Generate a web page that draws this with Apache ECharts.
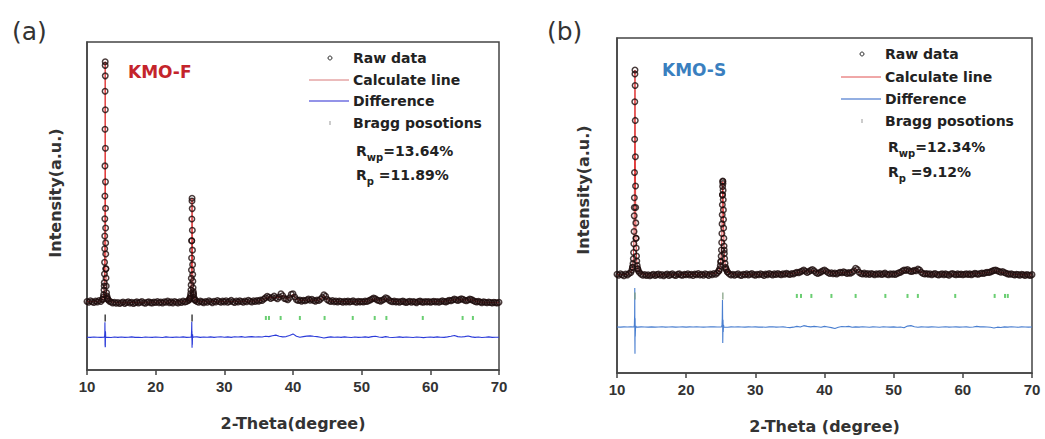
<!DOCTYPE html>
<html><head><meta charset="utf-8">
<script src="https://cdn.jsdelivr.net/npm/echarts@6/dist/echarts.min.js"></script>
<style>html,body{margin:0;padding:0;background:#fff}#c{width:1045px;height:439px}</style>
</head><body><div id="c"></div>
<script>
// ---------- shared ----------
const THETA_START = 10;        // first 2θ sample of the background arrays
const RAW_STEP = 0.25;         // 2θ spacing of raw background samples
const CALC_STEP = 0.5;         // 2θ spacing of calc / difference samples
const xTickLabels = [10, 20, 30, 40, 50, 60, 70];

// ---------- panel (a) KMO-F ----------
const rawBgA = [
300,270,320,290,265,310,285,330,300,360,815,1392,384,310,280,250,275,240,265,230,
255,280,235,265,290,250,270,230,260,285,245,270,300,255,240,275,290,260,250,280,
265,300,255,280,245,290,270,310,260,285,250,300,275,245,290,265,310,280,300,330,
414,2334,567,341,300,270,310,285,260,300,275,320,290,260,305,280,330,295,270,310,
285,320,270,300,335,290,265,310,280,325,300,270,315,290,340,305,280,320,295,330,
310,345,330,380,420,470,440,400,430,480,420,390,450,560,490,400,380,360,420,540,
560,450,360,330,350,310,340,320,350,380,340,370,330,310,350,330,370,430,520,470,
360,320,300,330,290,310,280,315,295,270,305,285,310,280,300,325,290,270,305,285,
300,280,310,295,320,345,380,410,390,350,330,310,340,370,420,400,340,305,290,310,
280,300,270,295,310,285,265,290,305,275,300,280,260,295,310,285,270,300,280,295,
270,290,305,280,300,275,295,320,300,285,310,340,320,350,380,355,330,360,390,370,
340,320,350,380,360,330,300,285,305,280,260,290,275,255,280,265,250,275,260,245,
270];
const peaksA = [
[12.30,384],[12.375,447],[12.425,527],[12.475,680],[12.515,930],[12.54,1221],[12.56,1610],[12.575,2065],
[12.585,2494],[12.595,3069],[12.605,3838],[12.615,4845],[12.625,6076],[12.635,7346],[12.645,8216],
[12.65,8340],[12.66,7864],[12.67,6728],[12.68,5438],[12.69,4310],[12.70,3424],[12.71,2760],[12.72,2263],
[12.73,1892],[12.75,1392],[12.77,1086],[12.80,815],[12.85,590],[12.90,482],[12.95,421],[13.05,360],
[24.90,357],[24.98,398],[25.05,470],[25.10,567],[25.135,686],[25.165,854],[25.19,1078],[25.21,1351],
[25.23,1754],[25.25,2334],[25.27,3064],[25.29,3666],[25.30,3760],[25.32,3412],[25.34,2689],[25.36,2020],
[25.38,1533],[25.40,1201],[25.42,976],[25.45,760],[25.48,628],[25.52,521],[25.58,433],[25.65,377],[25.75,341]];
const calcBgA = [
295,295,292,298,315,815,384,285,268,258,
258,260,262,262,265,265,268,268,270,272,
272,275,275,276,278,278,280,282,285,300,
414,567,305,290,288,288,290,290,292,292,
294,295,296,298,300,302,304,306,308,312,
320,340,400,440,420,440,430,500,390,430,
540,380,340,330,345,350,335,335,360,500,
360,310,300,298,295,293,292,295,292,292,
295,300,315,370,385,335,340,405,340,300,
292,290,288,288,287,287,286,286,287,288,
288,290,292,300,305,315,330,365,345,375,
345,345,360,310,290,275,268,265,262,260,
258];
const diffA = [
-900,-905,-895,-900,-905,-900,-900,-910,-895,-905,
-895,-905,-900,-890,-905,-900,-910,-895,-900,-905,
-895,-900,-910,-890,-900,-905,-895,-900,-890,-905,
-900,-910,-890,-905,-895,-900,-890,-905,-895,-885,
-900,-890,-905,-885,-895,-880,-900,-890,-880,-895,
-885,-895,-870,-880,-850,-830,-870,-890,-880,-840,
-790,-870,-900,-880,-865,-855,-870,-880,-900,-925,
-905,-890,-900,-895,-905,-890,-900,-910,-895,-905,
-900,-890,-905,-880,-870,-895,-905,-880,-900,-910,
-900,-890,-905,-895,-900,-910,-895,-900,-915,-900,
-895,-905,-890,-900,-905,-890,-870,-845,-880,-895,
-880,-860,-890,-905,-895,-910,-900,-890,-905,-900,
-900];
const diffPeaksA = [
[12.53,-895],[12.57,-860],[12.60,-700],[12.61,-400],[12.62,-620],[12.63,-1180],[12.64,-760],[12.65,-1240],
[12.66,-980],[12.67,-1230],[12.69,-700],[12.72,-880],[12.78,-910],
[25.14,-900],[25.20,-860],[25.24,-620],[25.26,-380],[25.28,-1000],[25.29,-700],[25.30,-1250],[25.32,-820],
[25.34,-1150],[25.37,-800],[25.42,-920],[25.46,-895]];
const braggMainA = [12.65, 25.30];
const braggA = [36.05, 36.5, 38.2, 41.0, 44.6, 48.7, 51.9, 53.6, 58.9, 64.7, 66.2];
const braggLevelA = -255;

// ---------- panel (b) KMO-S ----------
const rawBgB = [
1240,1210,1260,1225,1195,1250,1220,1265,1300,1479,3433,2423,1420,1297,1240,1210,1235,1200,1225,1195,
1215,1245,1200,1230,1250,1210,1235,1195,1225,1250,1205,1230,1260,1215,1200,1240,1255,1220,1210,1245,
1225,1260,1215,1240,1205,1250,1230,1270,1220,1245,1210,1260,1235,1205,1250,1225,1270,1240,1288,1360,
1646,3849,2037,1425,1308,1250,1220,1245,1210,1235,1260,1220,1205,1240,1225,1255,1215,1240,1265,1230,
1210,1245,1225,1260,1235,1205,1250,1230,1270,1240,1215,1255,1235,1270,1245,1225,1260,1240,1275,1250,
1235,1270,1250,1285,1310,1290,1320,1350,1380,1340,1300,1330,1370,1400,1360,1300,1270,1290,1320,1360,
1380,1340,1300,1270,1290,1260,1280,1250,1285,1310,1290,1320,1300,1270,1295,1280,1310,1360,1440,1400,
1310,1270,1250,1280,1245,1265,1235,1270,1250,1225,1260,1240,1270,1235,1255,1280,1245,1225,1260,1240,
1255,1235,1270,1290,1310,1350,1380,1370,1400,1360,1330,1345,1370,1360,1410,1380,1310,1270,1250,1265,
1240,1260,1225,1250,1270,1235,1215,1245,1260,1230,1255,1235,1210,1250,1265,1240,1225,1255,1235,1250,
1225,1245,1260,1235,1255,1230,1250,1275,1255,1240,1265,1285,1270,1290,1310,1300,1320,1345,1370,1380,
1360,1330,1310,1335,1300,1275,1255,1240,1260,1235,1215,1245,1230,1210,1240,1225,1205,1235,1220,1200,
1230];
const peaksB = [
[12.15,1379],[12.24,1466],[12.31,1591],[12.36,1748],[12.40,1954],[12.435,2246],[12.465,2646],[12.49,3160],
[12.51,3757],[12.53,4585],[12.55,5675],[12.57,6906],[12.59,7816],[12.60,7950],[12.62,7442],[12.64,6294],
[12.66,5100],[12.68,4138],[12.70,3433],[12.72,2929],[12.75,2423],[12.78,2104],[12.82,1839],[12.86,1675],
[12.92,1527],[13.00,1420],[13.10,1350],
[24.72,1347],[24.85,1425],[24.94,1529],[25.01,1671],[25.06,1837],[25.10,2037],[25.135,2287],[25.165,2582],
[25.19,2896],[25.21,3194],[25.23,3522],[25.25,3849],[25.27,4123],[25.29,4284],[25.30,4305],[25.32,4222],
[25.34,3997],[25.36,3688],[25.38,3356],[25.40,3041],[25.42,2763],[25.45,2424],[25.48,2169],[25.52,1927],
[25.56,1762],[25.62,1600],[25.70,1475],[25.80,1388],[25.95,1322]];
const calcBgB = [
1235,1235,1232,1238,1310,3433,1420,1260,1228,1218,
1218,1222,1225,1225,1228,1228,1230,1230,1232,1232,
1234,1235,1236,1238,1240,1242,1245,1250,1262,1288,
1646,2037,1308,1255,1240,1238,1236,1236,1238,1240,
1240,1242,1244,1246,1248,1250,1252,1254,1256,1258,
1260,1265,1295,1315,1360,1315,1350,1365,1285,1315,
1360,1300,1280,1275,1285,1295,1295,1290,1305,1425,
1300,1260,1255,1250,1248,1248,1248,1250,1248,1248,
1250,1265,1300,1365,1385,1335,1355,1395,1305,1260,
1250,1248,1246,1246,1245,1244,1244,1243,1243,1244,
1245,1250,1252,1258,1262,1270,1280,1300,1315,1360,
1345,1310,1295,1258,1250,1235,1232,1230,1225,1222,
1220];
const diffB = [
-490,-495,-485,-490,-480,-490,-495,-485,-490,-495,
-485,-495,-490,-480,-495,-490,-485,-495,-490,-485,
-495,-485,-490,-480,-490,-495,-490,-480,-485,-490,
-490,-495,-500,-485,-490,-480,-490,-495,-485,-490,
-485,-495,-490,-500,-485,-480,-495,-490,-485,-500,
-510,-495,-470,-490,-445,-470,-485,-470,-480,-500,
-470,-490,-510,-540,-500,-475,-480,-470,-500,-485,
-495,-480,-490,-500,-485,-490,-500,-480,-490,-495,
-485,-500,-490,-515,-460,-445,-480,-500,-485,-490,
-495,-485,-490,-500,-490,-480,-495,-490,-485,-495,
-490,-485,-500,-490,-470,-485,-480,-490,-500,-520,
-495,-505,-485,-495,-480,-490,-500,-485,-490,-495,
-490];
const diffPeaksB = [
[12.45,-490],[12.51,-430],[12.53,-250],[12.55,-100],[12.57,790],[12.585,-950],[12.60,-1370],[12.62,-200],
[12.64,-800],[12.67,-560],[12.72,-460],[12.80,-495],
[25.12,-490],[25.18,-420],[25.22,-200],[25.25,400],[25.27,-100],[25.29,-1015],[25.31,-700],[25.33,-250],
[25.36,-650],[25.40,-420],[25.46,-500]];
const braggMainB = [12.60, 25.30];
const braggB = [36.0, 36.6, 38.1, 41.0, 44.5, 48.8, 52.0, 53.5, 58.9, 64.6, 66.1, 66.5];
const braggLevelB = 530;

// ---------- helpers ----------
const onGrid = (vals, step) => vals.map((v, i) => [+(THETA_START + i * step).toFixed(3), v]);
const merged = (a, b) => a.concat(b).sort((p, q) => p[0] - q[0]);
const at = (xs, lvl) => xs.map(x => [x, lvl]);

const FONT = 'DejaVu Sans';
const AX = 'Liberation Sans, Arial, sans-serif';

function xAxisFor(gi, name) {
  return {
    type: 'value', gridIndex: gi, min: xTickLabels[0], max: xTickLabels[xTickLabels.length - 1], interval: 10,
    name: name, nameLocation: 'middle', nameGap: 45,
    nameTextStyle: {fontFamily: FONT, fontWeight: 'bold', fontSize: 16, color: '#333'},
    axisLine: {show: true, onZero: false, lineStyle: {color: '#444', width: 1.5}},
    axisTick: {show: true, inside: false, length: 5, lineStyle: {color: '#444', width: 1.5}},
    axisLabel: {show: true, margin: 9, fontFamily: AX, fontWeight: 'bold', fontSize: 15, color: '#333'},
    splitLine: {show: false}, minorTick: {show: false}
  };
}
function yAxisFor(gi) {
  return {
    type: 'value', gridIndex: gi, min: -2000, max: 9000,
    axisLine: {show: true, lineStyle: {color: '#444', width: 1.5}},
    axisTick: {show: false}, axisLabel: {show: false}, splitLine: {show: false}
  };
}
function panelSeries(gi, rawBg, peaks, calcBg, diff, diffPeaks, braggMain, bragg, lvl, col) {
  return [
    {type: 'line', name: 'Calculate line', xAxisIndex: gi, yAxisIndex: gi, showSymbol: false,
     data: merged(onGrid(calcBg, CALC_STEP), peaks),
     lineStyle: {color: col.calc, width: 1}, z: 2},
    {type: 'scatter', name: 'Raw data', xAxisIndex: gi, yAxisIndex: gi, symbol: 'circle', symbolSize: 5.5,
     data: merged(onGrid(rawBg, RAW_STEP), peaks),
     itemStyle: {color: 'rgba(0,0,0,0)', borderColor: col.raw, borderWidth: 1.5}, z: 3},
    {type: 'line', name: 'Difference', xAxisIndex: gi, yAxisIndex: gi, showSymbol: false,
     data: merged(onGrid(diff, CALC_STEP), diffPeaks),
     lineStyle: {color: col.diff, width: 1.1}, z: 3},
    {type: 'scatter', name: 'Bragg main', xAxisIndex: gi, yAxisIndex: gi, symbol: 'rect', symbolSize: [1.5, 7],
     data: at(braggMain, lvl), itemStyle: {color: col.main}, z: 4},
    {type: 'scatter', name: 'Bragg posotions', xAxisIndex: gi, yAxisIndex: gi, symbol: 'rect', symbolSize: [2, 4],
     data: at(bragg, lvl), itemStyle: {color: '#45c24f'}, z: 4}
  ];
}

function txt(x, y, text, size, color, weight, family, align) {
  return {type: 'text', x: x, y: y, silent: true, style: {
    text: text, fontSize: size, fontWeight: weight || 'bold', fontFamily: family || FONT,
    fill: color || '#222', align: align || 'left', textAlign: align || 'left',
    verticalAlign: 'middle', textVerticalAlign: 'middle'}};
}
function rtxt(x, y, main, sub, rest) {
  const base = {fontSize: 14, fontWeight: 'bold', fontFamily: FONT, fill: '#222', color: '#222', lineHeight: 22, verticalAlign: 'middle'};
  const s = {fontSize: 10, fontWeight: 'bold', fontFamily: FONT, fill: '#222', color: '#222', lineHeight: 22, verticalAlign: 'bottom'};
  return {type: 'text', x: x, y: y, silent: true, style: {
    text: '{a|' + main + '}{s|' + sub + '}{a|' + rest + '}', rich: {a: base, s: s},
    align: 'left', verticalAlign: 'middle', textVerticalAlign: 'middle'}};
}
function legend(sx, tx, ys, calcCol, diffCol, r1, r2) {
  return [
    {type: 'circle', silent: true, shape: {cx: sx, cy: ys[0], r: 2}, style: {fill: 'none', stroke: '#333', lineWidth: 1}},
    {type: 'line', silent: true, shape: {x1: sx - 21, y1: ys[1], x2: sx + 19, y2: ys[1]}, style: {stroke: calcCol, lineWidth: 1}},
    {type: 'line', silent: true, shape: {x1: sx - 21, y1: ys[2], x2: sx + 19, y2: ys[2]}, style: {stroke: diffCol, lineWidth: 1.5}},
    {type: 'rect', silent: true, shape: {x: sx - 0.5, y: ys[3] - 2, width: 1, height: 4}, style: {fill: '#999'}},
    txt(tx, ys[0], 'Raw data', 14),
    txt(tx, ys[1], 'Calculate line', 14),
    txt(tx, ys[2], 'Difference', 14),
    txt(tx, ys[3], 'Bragg posotions', 14),
    rtxt(tx + 3, ys[4], 'R', 'wp', r1),
    rtxt(tx + 3, ys[5], 'R', 'p', r2)
  ];
}

const option = {
  animation: false,
  backgroundColor: '#fff',
  grid: [
    {left: 87, top: 42, width: 412, height: 328, show: true, borderColor: '#444', borderWidth: 1.5, outerBoundsMode: 'none', containLabel: false},
    {left: 617, top: 38, width: 415, height: 335, show: true, borderColor: '#444', borderWidth: 1.5, outerBoundsMode: 'none', containLabel: false}
  ],
  xAxis: [xAxisFor(0, '2-Theta(degree)'), xAxisFor(1, '2-Theta (degree)')],
  yAxis: [yAxisFor(0), yAxisFor(1)],
  series: [].concat(
    panelSeries(0, rawBgA, peaksA, calcBgA, diffA, diffPeaksA, braggMainA, braggA, braggLevelA,
      {raw: '#1e0c0c', calc: '#e03a3a', diff: '#2b3bd9', main: '#111'}),
    panelSeries(1, rawBgB, peaksB, calcBgB, diffB, diffPeaksB, braggMainB, braggB, braggLevelB,
      {raw: '#1e0c0c', calc: '#e03a3a', diff: '#4a7fd0', main: '#7d9c7d'})
  ),
  graphic: [].concat(
    [txt(12, 31, '(a)', 25, '#333', 'normal'),
     txt(547, 31, '(b)', 25, '#333', 'normal'),
     txt(128, 72, 'KMO-F', 17, '#c4242b'),
     txt(662, 70, 'KMO-S', 17, '#3a7fbf'),
     Object.assign(txt(55, 193, 'Intensity(a.u.)', 16, '#333', 'bold', FONT, 'center'), {rotation: Math.PI / 2}),
     Object.assign(txt(583, 190, 'Intensity(a.u.)', 16, '#333', 'bold', FONT, 'center'), {rotation: Math.PI / 2})],
    legend(330, 353, [58, 80, 101, 123, 151, 175], '#d87878', '#6f6fe0', '=13.64%', ' =11.89%'),
    legend(862, 885, [54, 77, 99, 121, 147, 172], '#e05050', '#6f95d8', '=12.34%', ' =9.12%')
  )
};
const chart = echarts.init(document.getElementById('c'), null, {renderer: 'svg', width: 1045, height: 439});
chart.setOption(option);
</script>
</body></html>
